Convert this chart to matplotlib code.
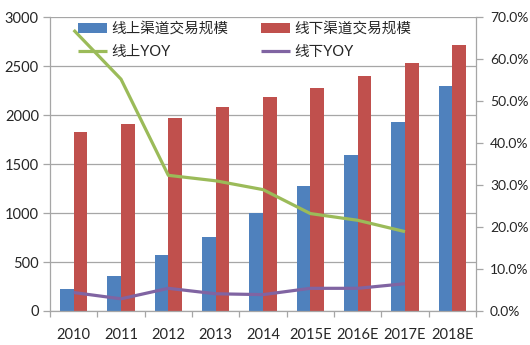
import matplotlib
matplotlib.use("Agg")
import matplotlib.pyplot as plt
import numpy as np

plt.rcParams['font.family'] = ['Lato', 'Noto Sans CJK SC', 'DejaVu Sans']

categories = ["2010", "2011", "2012", "2013", "2014", "2015E", "2016E", "2017E", "2018E"]
online_scale = [220, 360, 570, 760, 1000, 1280, 1590, 1930, 2300]
offline_scale = [1830, 1910, 1970, 2080, 2180, 2280, 2400, 2530, 2710]
online_yoy = [66.9, 55.2, 32.3, 31.0, 28.9, 23.2, 21.6, 18.9]
offline_yoy = [4.4, 2.9, 5.4, 4.1, 3.9, 5.4, 5.4, 6.5]

labels = ["线上渠道交易规模", "线下渠道交易规模", "线上YOY", "线下YOY"]
c_blue, c_red, c_green, c_purple = "#4F81BD", "#C0504D", "#9BBB59", "#8064A2"
grid_c = "#A6A6A6"
txt_c = "#262626"

fig = plt.figure(figsize=(5.3, 3.45), dpi=100)
ax = fig.add_axes([50/530, 1-311/345, (476-50)/530, (311-17)/345])
x = np.arange(len(categories))
w = 0.29
b1 = ax.bar(x - w/2, online_scale, w, color=c_blue, zorder=2)
b2 = ax.bar(x + w/2, offline_scale, w, color=c_red, zorder=2)
ax.set_xlim(-0.5, len(categories) - 0.5)
ax.set_ylim(0, 3000)
ax.set_yticks(np.arange(0, 3001, 500))
ax.yaxis.grid(True, color=grid_c, linewidth=0.9, zorder=0)
ax.set_axisbelow(True)
ax.set_xticks(x)
ax.set_xticklabels(categories)
ax.set_xticks(np.arange(-0.5, len(categories)), minor=True)
ax.tick_params(axis='x', which='major', length=0, pad=12, labelsize=10.5, colors=txt_c)
ax.tick_params(axis='x', which='minor', length=4, color=grid_c, width=0.9)
ax.tick_params(axis='y', length=5, color=grid_c, width=0.9, labelsize=10.5, colors=txt_c, pad=3)
for s in ['top', 'right']:
    ax.spines[s].set_visible(False)
for s in ['left', 'bottom']:
    ax.spines[s].set_color(grid_c)
    ax.spines[s].set_linewidth(0.9)

ax2 = ax.twinx()
ax2.set_ylim(0, 70)
ax2.set_yticks(np.arange(0, 71, 10))
ax2.set_yticklabels([f"{v:.1f}%" for v in np.arange(0, 71, 10)])
l1, = ax2.plot(x[:len(online_yoy)], online_yoy, color=c_green, linewidth=2.3, solid_capstyle='butt')
l2, = ax2.plot(x[:len(offline_yoy)], offline_yoy, color=c_purple, linewidth=2.3, solid_capstyle='butt')
ax2.tick_params(axis='y', length=5, color=grid_c, width=0.9, labelsize=10, colors=txt_c, pad=5)
for s in ['top', 'left', 'bottom']:
    ax2.spines[s].set_visible(False)
ax2.spines['right'].set_color(grid_c)
ax2.spines['right'].set_linewidth(0.9)

leg = ax2.legend([b1, l1, b2, l2], [labels[0], labels[2], labels[1], labels[3]],
                 ncol=2, frameon=False, loc='upper left',
                 bbox_to_anchor=(78/530, 1-22/345), bbox_transform=fig.transFigure,
                 borderpad=0, borderaxespad=0, handlelength=2.0, handletextpad=0.3,
                 columnspacing=2.2, labelspacing=0.6, fontsize=10.5)
for t in leg.get_texts():
    t.set_color(txt_c)

fig.savefig("out.png", dpi=100)
